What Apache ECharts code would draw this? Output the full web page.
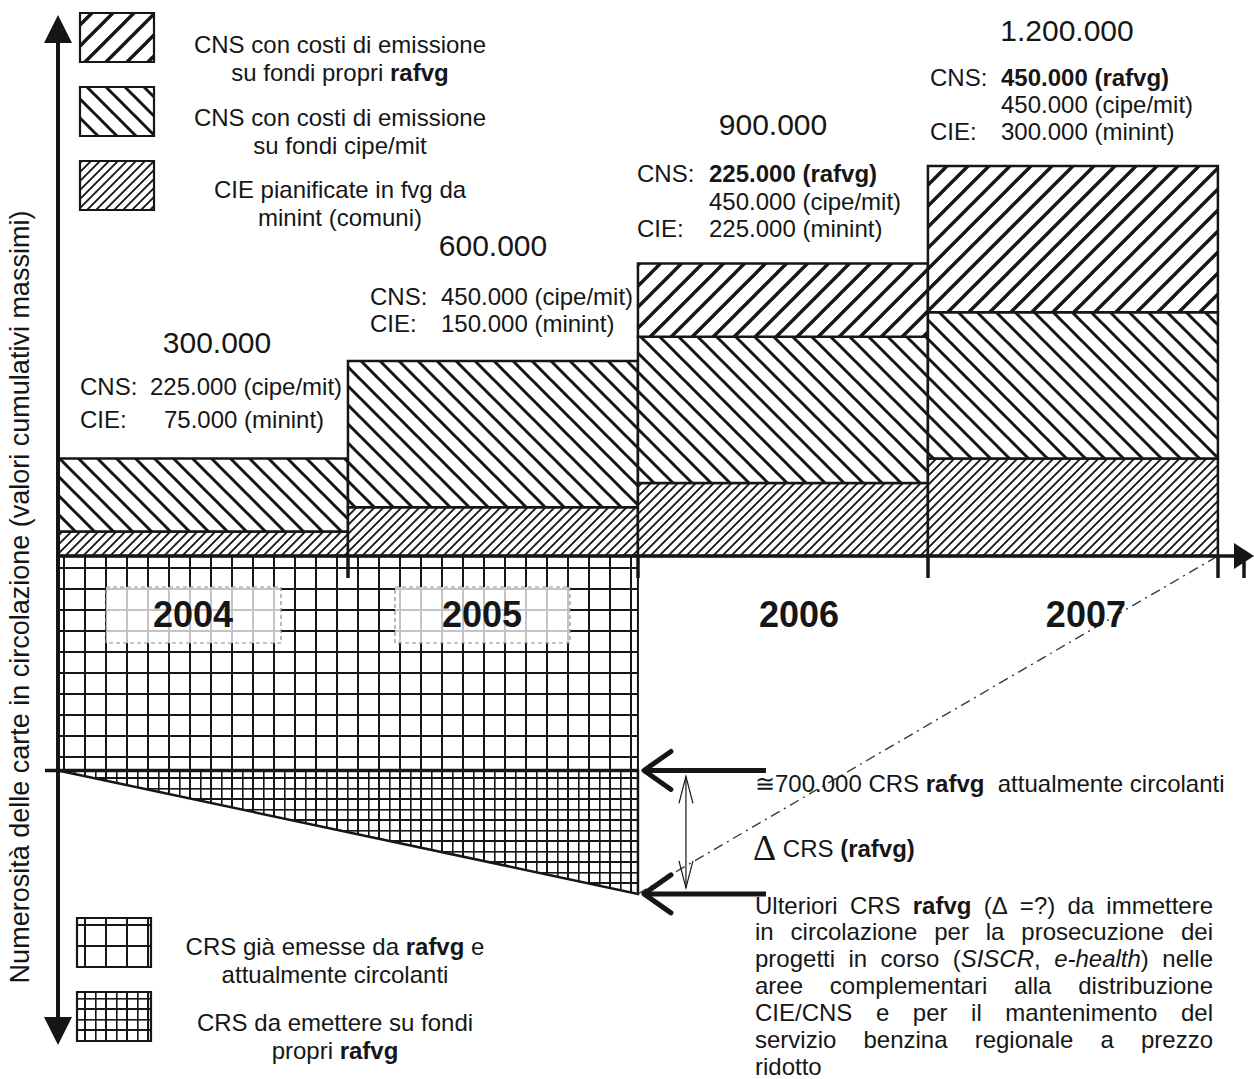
<!DOCTYPE html>
<html><head><meta charset="utf-8">
<script src="https://cdn.jsdelivr.net/npm/echarts@6/dist/echarts.min.js"></script>
<style>html,body{margin:0;padding:0;background:#fff}#c{width:1254px;height:1079px}</style>
</head><body><div id="c"></div>
<script>
// ---------------- DATA (thousands of cards) ----------------
const years = ['2004', '2005', '2006', '2007'];
const cieMinint = [75, 150, 225, 300];
const cnsCipeMit = [225, 450, 450, 450];
const cnsRafvg = [0, 0, 225, 450];
const crsCircolanti = 660;      // drawn height of "≅700.000 CRS rafvg attualmente circolanti"
const crsDelta = 380;           // Δ CRS (rafvg) still to be issued
const crsYearsSpan = 2;         // CRS area covers 2004-2005

// ---------------- STYLE HELPERS ----------------
const FF = '"Liberation Sans", Arial, Helvetica, sans-serif';
const INK = '#161616';
function mkCanvas(w, h) { const c = document.createElement('canvas'); c.width = w; c.height = h || w; const g = c.getContext('2d'); g.fillStyle = '#fff'; g.fillRect(0, 0, c.width, c.height); return [c, g]; }
function hatch(s, lw, dir) {
  const [c, g] = mkCanvas(s); g.strokeStyle = INK; g.lineWidth = lw; g.beginPath();
  if (dir === '/') { [0, s, 2 * s].forEach(k => { g.moveTo(k + 1, -1); g.lineTo(k - s - 1, s + 1); }); }
  else { [-s, 0, s].forEach(k => { g.moveTo(k - 1, -1); g.lineTo(k + s + 1, s + 1); }); }
  g.stroke(); return c;
}
function gridTile(s, lw, sub, subLw) {
  const [c, g] = mkCanvas(s); g.fillStyle = INK; g.fillRect(0, 0, s, lw); g.fillRect(0, 0, lw, s);
  if (sub) { const h = Math.round(s / 2); g.fillRect(0, h, s, subLw); g.fillRect(h, 0, subLw, s); }
  return c;
}
const tiles = [hatch(9, 1.8, '/'), hatch(19, 3, '\\'), hatch(21, 3.4, '/')]; // CIE, CNS cipe, CNS rafvg
const tileCrs = gridTile(21, 2);
const tileCrsNew = gridTile(21, 2, true, 1.6);
function pat(c, x, y) { return { image: c, repeat: 'repeat', imageWidth: c.width, imageHeight: c.height, x: x || 0, y: y || 0 }; }
const fmt = v => String(v * 1000).replace(/\B(?=(\d{3})+(?!\d))/g, '.');

// stacked segments built from the data arrays
const segs = [];
years.forEach((y, i) => {
  let b = 0;
  [cieMinint[i], cnsCipeMit[i], cnsRafvg[i]].forEach((v, k) => { if (v > 0) { segs.push([i, i + 1, b, b + v, k]); b += v; } });
});

// ---------------- TEXT LAYOUT ----------------
const T = (x, y, text, o) => {
  o = o || {};
  const st = { text, font: `${o.italic ? 'italic ' : ''}${o.weight || 'normal'} ${o.size || 24}px ${o.family || FF}`, fill: INK,
    align: o.align || 'left', textAlign: o.align || 'left', verticalAlign: 'middle', textVerticalAlign: 'middle' };
  if (o.rich) st.rich = o.rich;
  return { type: 'text', x, y, rotation: o.rotation || 0, style: st, z: 100 };
};
const rich = {
  n: { fontFamily: FF, fontSize: 24, color: INK },
  b: { fontFamily: FF, fontSize: 24, fontWeight: 'bold', color: INK },
  i: { fontFamily: FF, fontSize: 24, fontStyle: 'italic', color: INK },
  d: { fontFamily: '"Liberation Serif", "DejaVu Serif", serif', fontSize: 36, color: INK }
};
const G = [];
// y axis title
G.push(T(20, 597, 'Numerosità delle carte in circolazione (valori cumulativi massimi)', { size: 27, align: 'center', rotation: Math.PI / 2 }));

// top legend
const legTop = [
  { y: 13, t: 2, l1: 'CNS con costi di emissione', l2: '{n|su fondi propri }{b|rafvg}', ty: 44 },
  { y: 87, t: 1, l1: 'CNS con costi di emissione', l2: '{n|su fondi cipe/mit}', ty: 117 },
  { y: 161, t: 0, l1: 'CIE pianificate in fvg da', l2: '{n|minint (comuni)}', ty: 189 }
];
legTop.forEach(L => {
  G.push({ type: 'rect', shape: { x: 80, y: L.y, width: 74, height: 49 }, style: { fill: pat(tiles[L.t], 80, L.y), stroke: INK, lineWidth: 2.2 }, z: 100 });
  G.push(T(340, L.ty, L.l1, { align: 'center' }));
  G.push(T(340, L.ty + 28, L.l2, { align: 'center', rich }));
});
// bottom legend
const legBot = [
  { y: 918, tile: tileCrs, l1: '{n|CRS già emesse da }{b|rafvg}{n| e}', l2: '{n|attualmente circolanti}', ty: 946 },
  { y: 992, tile: tileCrsNew, l1: '{n|CRS da emettere su fondi}', l2: '{n|propri }{b|rafvg}', ty: 1022 }
];
legBot.forEach(L => {
  G.push({ type: 'rect', shape: { x: 77, y: L.y, width: 74, height: 49 }, style: { fill: pat(L.tile, 78, L.y + 1), stroke: INK, lineWidth: 2.2 }, z: 100 });
  G.push(T(335, L.ty, L.l1, { align: 'center', rich }));
  G.push(T(335, L.ty + 28, L.l2, { align: 'center', rich }));
});

// per-year annotation blocks
const blockLayout = [
  { total: [217, 342], labelX: 80, valX: [150, 164], ys: [386, 419] },
  { total: [493, 245], labelX: 370, valX: [441, 441], ys: [296, 323] },
  { total: [773, 124], labelX: 637, valX: [709, 709, 709], ys: [173, 201, 228] },
  { total: [1067, 30], labelX: 930, valX: [1001, 1001, 1001], ys: [77, 104, 131] }
];
years.forEach((y, i) => {
  const Lb = blockLayout[i];
  G.push(T(Lb.total[0], Lb.total[1], fmt(cieMinint[i] + cnsCipeMit[i] + cnsRafvg[i]), { size: 30, align: 'center' }));
  const lines = [];
  if (cnsRafvg[i] > 0) lines.push({ lab: 'CNS:', val: `{b|${fmt(cnsRafvg[i])} (rafvg)}` });
  lines.push({ lab: cnsRafvg[i] > 0 ? '' : 'CNS:', val: `{n|${fmt(cnsCipeMit[i])} (cipe/mit)}` });
  lines.push({ lab: 'CIE:', val: `{n|${fmt(cieMinint[i])} (minint)}` });
  lines.forEach((ln, k) => {
    if (ln.lab) G.push(T(Lb.labelX, Lb.ys[k], ln.lab));
    G.push(T(Lb.valX[k], Lb.ys[k], ln.val, { rich }));
  });
});

// right-side annotations
G.push(T(755, 783, '{n|≅700.000 CRS }{b|rafvg}{n|  attualmente circolanti}', { rich }));
G.push(T(753, 848, '{d|Δ}{n| CRS }{b|(rafvg)}', { rich }));

// justified paragraph
const paraLines = [
  'Ulteriori CRS *rafvg* (Δ =?) da immettere',
  'in circolazione per la prosecuzione dei',
  'progetti in corso (_SISCR_, _e-health_) nelle',
  'aree complementari alla distribuzione',
  'CIE/CNS e per il mantenimento del',
  'servizio benzina regionale a prezzo',
  'ridotto'
];
const mctx = document.createElement('canvas').getContext('2d');
function runsOf(word) {
  const out = []; const re = /\*([^*]+)\*|_([^_]+)_|([^*_]+)/g; let m;
  while ((m = re.exec(word))) { if (m[1]) out.push(['b', m[1]]); else if (m[2]) out.push(['i', m[2]]); else out.push(['n', m[3]]); }
  return out;
}
function widthOf(runs) {
  let w = 0;
  runs.forEach(([s, t]) => { mctx.font = `${s === 'i' ? 'italic ' : ''}${s === 'b' ? 'bold ' : ''}24px ${FF}`; w += mctx.measureText(t).width; });
  return w;
}
const paraX0 = 755, paraX1 = 1213, paraY0 = 905, paraLH = 26.9;
paraLines.forEach((line, li) => {
  const words = line.split(' ').map(runsOf);
  const ws = words.map(widthOf);
  const sum = ws.reduce((a, b) => a + b, 0);
  const last = li === paraLines.length - 1;
  mctx.font = `24px ${FF}`;
  const gap = last ? mctx.measureText(' ').width : (paraX1 - paraX0 - sum) / (words.length - 1);
  let x = paraX0;
  words.forEach((runs, k) => {
    G.push(T(x, paraY0 + li * paraLH, runs.map(([s, t]) => `{${s}|${t}}`).join(''), { rich }));
    x += ws[k] + gap;
  });
});

// ---------------- CHART ----------------
const chart = echarts.init(document.getElementById('c'), null, { renderer: 'svg' });
const yearDx = [-10, -11, 16, 13];
const option = {
  animation: false,
  backgroundColor: '#ffffff',
  grid: { left: 58, right: 10, top: 29, bottom: 48 },
  xAxis: {
    type: 'value', min: 0, max: 4.09, interval: 1, z: 10,
    axisLine: { onZero: true, symbol: ['none', 'triangle'], symbolSize: [26, 20], lineStyle: { color: INK, width: 3.5 } },
    axisTick: { show: true, length: 22, lineStyle: { color: INK, width: 3.5 } },
    axisLabel: { show: false }, splitLine: { show: false }
  },
  yAxis: {
    type: 'value', min: -1462, max: 1622, z: 10,
    axisLine: { show: true, symbol: ['triangle', 'triangle'], symbolSize: [28, 28], lineStyle: { color: INK, width: 4 } },
    axisTick: { show: false }, axisLabel: { show: false }, splitLine: { show: false }
  },
  series: [
    { // CRS già emesse
      type: 'custom', clip: false, z: 1, data: [[0, crsYearsSpan, 0, -crsCircolanti]], encode: { x: [0, 1], y: [2, 3] },
      renderItem: (p, api) => {
        const a = api.coord([api.value(0), api.value(2)]);
        const b = api.coord([api.value(1), api.value(3)]);
        return { type: 'rect', shape: { x: a[0], y: a[1], width: b[0] - a[0], height: b[1] - a[1] },
          style: { fill: pat(tileCrs, a[0], a[1]), stroke: INK, lineWidth: 2 } };
      }
    },
    { // CRS da emettere (Δ)
      type: 'custom', clip: false, z: 1, data: [[0, crsYearsSpan, -crsCircolanti, -(crsCircolanti + crsDelta)]], encode: { x: [0, 1], y: [2, 3] },
      renderItem: (p, api) => {
        const a = api.coord([api.value(0), api.value(2)]);
        const b = api.coord([api.value(1), api.value(2)]);
        const c = api.coord([api.value(1), api.value(3)]);
        return { type: 'group', children: [
          { type: 'polygon', shape: { points: [a, b, c] }, style: { fill: pat(tileCrsNew, a[0], a[1]), stroke: INK, lineWidth: 2.5 } },
          { type: 'line', shape: { x1: a[0] - 13, y1: a[1], x2: b[0], y2: b[1] }, style: { stroke: INK, lineWidth: 3.5 } }
        ] };
      }
    },
    { // CIE / CNS stacked steps
      type: 'custom', clip: false, z: 2, data: segs, encode: { x: [0, 1], y: [2, 3] },
      renderItem: (p, api) => {
        const a = api.coord([api.value(0), api.value(3)]);
        const b = api.coord([api.value(1), api.value(2)]);
        return { type: 'rect', shape: { x: a[0], y: a[1], width: b[0] - a[0], height: b[1] - a[1] },
          style: { fill: pat(tiles[api.value(4)]), stroke: INK, lineWidth: 2.5 } };
      }
    },
    { // dash-dot projection line
      type: 'line', z: 5, symbol: 'none', silent: true,
      data: [[crsYearsSpan, -(crsCircolanti + crsDelta)], [years.length, 0]],
      lineStyle: { color: '#3a3a3a', width: 1.4, type: [10, 5, 2, 5] }
    },
    { // thick left-pointing arrows
      type: 'custom', clip: false, z: 6,
      data: [[crsYearsSpan, -crsCircolanti], [crsYearsSpan, -(crsCircolanti + crsDelta)]],
      renderItem: (p, api) => {
        const q = api.coord([api.value(0), api.value(1)]); const hx = q[0] + 6, y = q[1];
        return { type: 'group', children: [
          { type: 'line', shape: { x1: hx + 4, y1: y, x2: hx + 122, y2: y }, style: { stroke: INK, lineWidth: 5 } },
          { type: 'polyline', shape: { points: [[hx + 27, y - 19], [hx, y], [hx + 27, y + 19]] }, style: { stroke: INK, fill: 'none', lineWidth: 5, lineCap: 'round', lineJoin: 'round' } }
        ] };
      }
    },
    { // thin double arrow for Δ
      type: 'custom', clip: false, z: 6,
      data: [[crsYearsSpan, -crsCircolanti, -(crsCircolanti + crsDelta)]],
      renderItem: (p, api) => {
        const a = api.coord([api.value(0), api.value(1)]); const b = api.coord([api.value(0), api.value(2)]);
        const x = a[0] + 48, y1 = a[1] + 6, y2 = b[1] - 6;
        const st = { stroke: INK, fill: 'none', lineWidth: 1.2 };
        return { type: 'group', children: [
          { type: 'line', shape: { x1: x, y1, x2: x, y2 }, style: st },
          { type: 'polyline', shape: { points: [[x - 7, y1 + 27], [x, y1], [x + 7, y1 + 27]] }, style: st },
          { type: 'polyline', shape: { points: [[x - 7, y2 - 27], [x, y2], [x + 7, y2 - 27]] }, style: st }
        ] };
      }
    },
    { // year labels
      type: 'custom', clip: false, z: 7,
      data: years.map((y, i) => [i + 0.5, 0, i]),
      renderItem: (p, api) => {
        const i = api.value(2); const q = api.coord([api.value(0), api.value(1)]);
        const cx = q[0] + yearDx[i], cy = q[1] + 59;
        const ch = [];
        if (i < crsYearsSpan) ch.push({ type: 'rect', shape: { x: cx - 87, y: cy - 28, width: 175, height: 56 },
          style: { fill: 'rgba(255,255,255,0.75)', stroke: '#8c8c8c', lineWidth: 1.2, lineDash: [4, 3] } });
        ch.push({ type: 'text', style: { text: years[i], x: cx, y: cy, font: `bold 36px ${FF}`, fill: INK,
          align: 'center', textAlign: 'center', verticalAlign: 'middle', textVerticalAlign: 'middle' } });
        return { type: 'group', children: ch };
      }
    }
  ],
  graphic: { elements: G }
};
chart.setOption(option);
</script>
</body></html>
